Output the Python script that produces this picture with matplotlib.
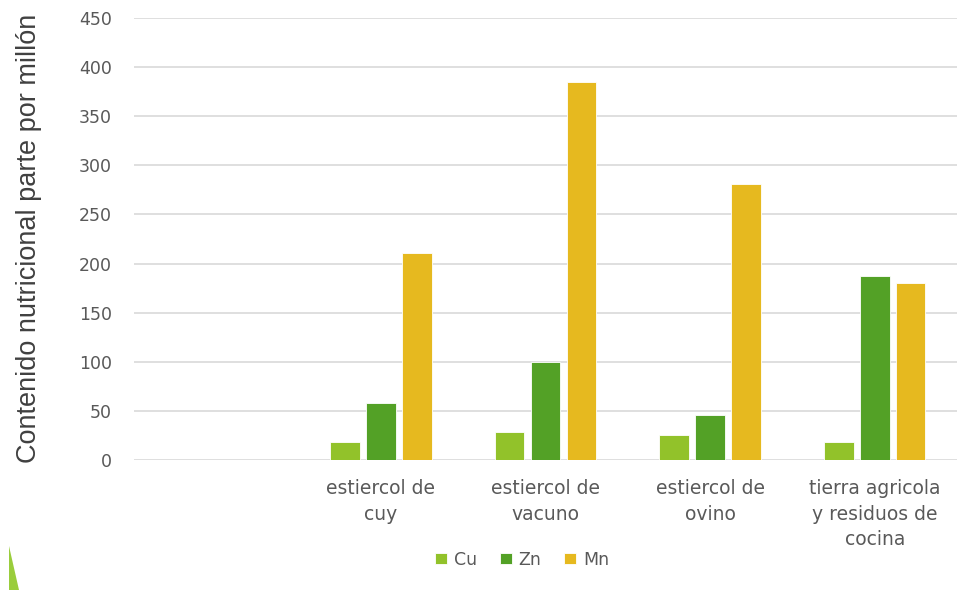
import numpy as np
import matplotlib
matplotlib.use("Agg")
import matplotlib.pyplot as plt
from matplotlib.patches import Polygon

plt.rcParams["font.family"] = ["DejaVu Sans"]

categories = ["", "estiercol de\ncuy", "estiercol de\nvacuno", "estiercol de\novino",
              "tierra agricola\ny residuos de\ncocina"]
series_names = ["Cu", "Zn", "Mn"]
cu = [np.nan, 18, 29, 25, 18]
zn = [np.nan, 58, 100, 46, 187]
mn = [np.nan, 211, 385, 281, 180]
y_ticks = [0, 50, 100, 150, 200, 250, 300, 350, 400, 450]

colors = ["#92C22A", "#53A126", "#E6B91F"]
text_color = "#595959"

fig = plt.figure(figsize=(9.6, 5.9), dpi=100)
ax = fig.add_axes([134 / 960, 1 - 460 / 590, (957 - 134) / 960, (460 - 18) / 590])

x = np.arange(len(categories))
width = 0.18
step = 0.218
for i, (vals, name, col) in enumerate(zip([cu, zn, mn], series_names, colors)):
    ax.bar(x + (i - 1) * step, vals, width=width, color=col, label=name,
           edgecolor="white", linewidth=0.6, zorder=3)

ax.set_xlim(-0.5, len(categories) - 0.5)
ax.set_ylim(0, 450)
ax.set_yticks(y_ticks)
ax.grid(axis="y", color="#D9D9D9", linewidth=1.2, zorder=0)
ax.set_axisbelow(True)
for s in ax.spines.values():
    s.set_visible(False)
ax.tick_params(axis="both", length=0, colors=text_color)
ax.tick_params(axis="y", labelsize=12.5, pad=16)
ax.set_xticks(x)
ax.set_xticklabels(categories, fontsize=13.5, color=text_color, linespacing=1.42)
ax.tick_params(axis="x", pad=14)

fig.text(29 / 960, 1 - 238 / 590, "Contenido nutricional parte por millón",
         rotation=90, ha="center", va="center", fontsize=19.5,
         family="Liberation Sans", color="#404040")

leg = fig.legend(loc="center", bbox_to_anchor=(522 / 960, 1 - 560 / 590), ncol=3,
                 frameon=False, fontsize=12.5, handlelength=0.7, handleheight=0.6,
                 handletextpad=0.4, columnspacing=1.3)
for t in leg.get_texts():
    t.set_color(text_color)

# small green accent at the lower left corner
tri = Polygon([[9 / 960, 1 - 546 / 590], [9 / 960, 0], [19 / 960, 0]],
              closed=True, transform=fig.transFigure, color="#9ACD3C", lw=0)
fig.patches.append(tri)

fig.savefig("out.png", dpi=100)
